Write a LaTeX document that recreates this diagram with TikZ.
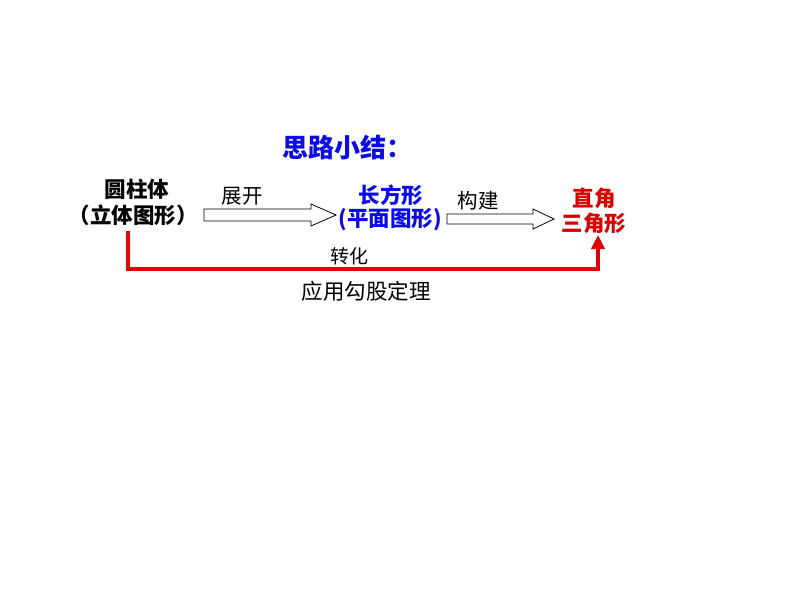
\documentclass[tikz,border=0pt]{standalone}
\usepackage{fontspec}
\setmainfont{Noto Sans CJK SC}
\usetikzlibrary{arrows.meta,calc}
\definecolor{tblue}{RGB}{10,10,235}
\definecolor{tred}{RGB}{215,0,0}
\definecolor{lred}{RGB}{228,0,0}
\begin{document}
\begin{tikzpicture}[x=1pt,y=-1pt,
  lbl/.style={inner sep=0pt,font=\fontsize{21.5}{24}\selectfont\bfseries},
  plain/.style={inner sep=0pt,font=\fontsize{20.5}{24}\selectfont},
  hollow/.style={draw=black,line width=0.8pt,fill=white}]
\useasboundingbox[fill=white] (0,0) rectangle (794,596);
\node[inner sep=0pt,font=\fontsize{26}{30}\selectfont\bfseries,text=tblue] (title) at (347,148) {思路小结：};
\node[lbl] (c1a) at (137,189) {圆柱体};
\node[lbl] (c1b) at (133,215) {（立体图形）};
\node[plain] (l1) at (242,196) {展开};
\node[lbl,text=tblue] (c2a) at (391,195) {长方形};
\node[lbl,text=tblue] (c2b) at (390,220) {(平面图形)};
\node[plain] (l2) at (478,201) {构建};
\node[lbl,text=tred] (c3a) at (594,198) {直角};
\node[lbl,text=tred] (c3b) at (594,223) {三角形};
\node[plain,font=\fontsize{19}{22}\selectfont] (l3) at (349,256) {转化};
\node[plain,font=\fontsize{21.5}{24}\selectfont] (l4) at (366,291) {应用勾股定理};
% hollow arrow 1
\coordinate (a1s) at (204,215);
\coordinate (a1e) at (336,215);
\draw[hollow] ($(a1s)+(0,-6)$) -- ($(a1e)+(-25,-6)$) -- ($(a1e)+(-25,-11)$) -- (a1e)
  -- ($(a1e)+(-25,11)$) -- ($(a1e)+(-25,6)$) -- ($(a1s)+(0,6)$) -- cycle;
% hollow arrow 2
\coordinate (a2s) at (447,219);
\coordinate (a2e) at (554,219);
\draw[hollow] ($(a2s)+(0,-5)$) -- ($(a2e)+(-21,-5)$) -- ($(a2e)+(-21,-10)$) -- (a2e)
  -- ($(a2e)+(-21,10)$) -- ($(a2e)+(-21,5)$) -- ($(a2s)+(0,5)$) -- cycle;
% red connector
\coordinate (rs) at (128,231);
\coordinate (re) at (598,235);
\draw[lred,line width=3.5pt,-{Triangle[length=14pt,width=13pt]}] (rs) -- (128,269) -- (598,269) -- (re);
\end{tikzpicture}
\end{document}
